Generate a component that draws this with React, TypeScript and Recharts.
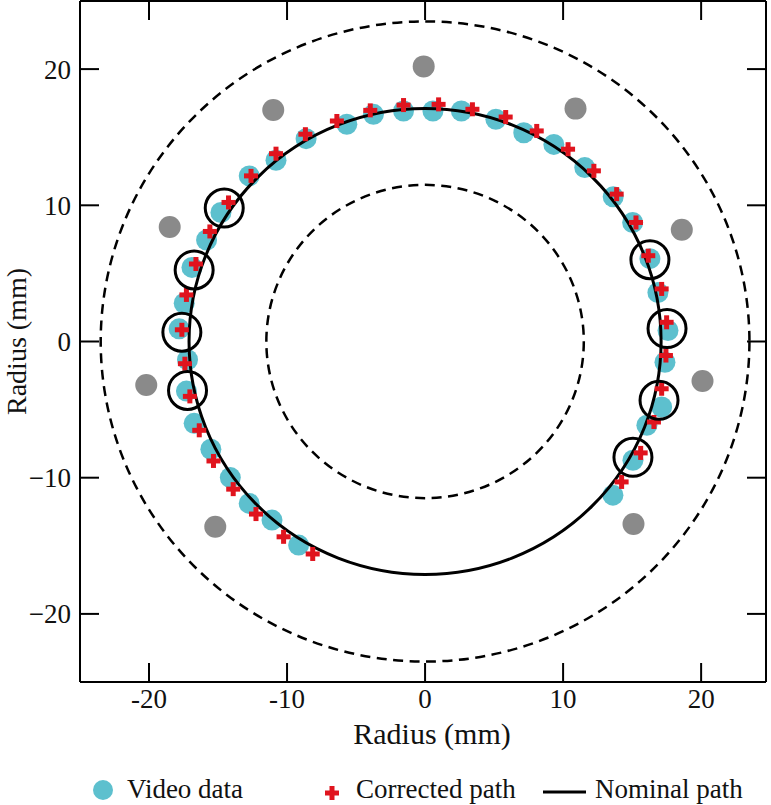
import React from 'react'
import { ScatterChart, Scatter, XAxis, YAxis } from 'recharts'

// video tracked positions (mm)
const videoX = [
  -9.16, -11.09, -12.74, -14.11, -15.52, -16.73, -17.29, -17.21, -17.82, -17.45,
  -16.89, -15.83, -14.79, -12.74, -10.8, -8.62, -5.67, -3.74, -1.56, 0.57,
  2.63, 5.13, 7.15, 9.33, 11.57, 13.63, 15.04, 16.29, 16.87, 17.6,
  17.38, 17.14, 16.07, 15.06, 13.61,
]
const videoY = [
  -14.95, -13.11, -11.89, -9.99, -7.91, -6.01, -3.64, -1.34, 0.93, 2.81,
  5.44, 7.45, 9.47, 12.16, 13.31, 14.89, 15.95, 16.68, 16.92, 16.92,
  16.92, 16.32, 15.33, 14.47, 12.77, 10.62, 8.74, 6.08, 3.59, 0.81,
  -1.52, -4.81, -6.15, -8.72, -11.28,
]

// corrected path (mm)
const correctedX = [
  -8.14, -10.25, -12.25, -13.9, -15.33, -16.36, -17.04, -17.4, -17.62, -17.29,
  -16.6, -15.59, -14.24, -12.61, -10.8, -8.67, -6.39, -3.97, -1.56, 0.98,
  3.43, 5.84, 8.09, 10.36, 12.23, 13.88, 15.28, 16.17, 17.14, 17.5,
  17.45, 17.14, 16.58, 15.62, 14.24,
]
const correctedY = [
  -15.6, -14.34, -12.67, -10.84, -8.77, -6.52, -4.03, -1.63, 0.86, 3.42,
  5.69, 8.08, 10.21, 12.16, 13.79, 15.22, 16.19, 16.97, 17.36, 17.41,
  17.05, 16.48, 15.46, 14.12, 12.53, 10.82, 8.74, 6.3, 3.86, 1.41,
  -1.03, -3.47, -5.91, -8.18, -10.31,
]

// reference markers (grey)
const markerX = [-0.1, -11.0, 10.9, -18.5, 18.6, -20.2, 20.1, -15.2, 15.1]
const markerY = [20.2, 17.0, 17.1, 8.4, 8.2, -3.2, -2.9, -13.6, -13.4]

// highlighted samples (open black circles)
const highlightX = [-14.55, -16.73, -17.62, -17.21, 16.29, 17.53, 16.95, 15.06]
const highlightY = [9.8, 5.25, 0.68, -3.59, 6.01, 0.95, -4.32, -8.5]

const nominalRadius = [17.1]
const boundaryRadius = [23.5, 11.5]

const xTicks = [-20, -10, 0, 10, 20]
const yTicks = [-20, -10, 0, 10, 20]

const FONT = "'Liberation Serif', 'DejaVu Serif', serif"
const CYAN = '#5dc0ce'
const RED = '#e0141e'
const GREY = '#8a8a8a'

const W = 771
const H = 752
const MARGIN = { top: 0, right: 4, bottom: 0, left: 0 }
const Y_AXIS_W = 80
const X_AXIS_H = 70
const TICK = 19
const X_DOMAIN: [number, number] = [-25, 24.7]
const Y_DOMAIN: [number, number] = [-25, 25]
// top axis is 1px high, right axis 1px wide
const PLOT_W = W - MARGIN.left - MARGIN.right - Y_AXIS_W - 1
const PLOT_H = H - MARGIN.top - MARGIN.bottom - X_AXIS_H - 1
const SX = PLOT_W / (X_DOMAIN[1] - X_DOMAIN[0])
const SY = PLOT_H / (Y_DOMAIN[1] - Y_DOMAIN[0])

const toPoints = (xs: number[], ys: number[]) => xs.map((x, i) => ({ x, y: ys[i] }))
const rings = (rs: number[]) => rs.map((r) => ({ x: 0, y: 0, r }))

// frame tick anchors, placed on the four domain edges
const frameTicks = [
  ...xTicks.map((t) => ({ x: t, y: Y_DOMAIN[1], dx: 0, dy: 1 })),
  ...xTicks.map((t) => ({ x: t, y: Y_DOMAIN[0], dx: 0, dy: -1 })),
  ...yTicks.map((t) => ({ x: X_DOMAIN[0], y: t, dx: 1, dy: 0 })),
  ...yTicks.map((t) => ({ x: X_DOMAIN[1], y: t, dx: -1, dy: 0 })),
]

const DashedRing = (p: any) => (
  <ellipse cx={p.cx} cy={p.cy} rx={p.payload.r * SX} ry={p.payload.r * SY}
    fill="none" stroke="#000" strokeWidth={2.5} strokeDasharray="10 6.5" />
)
const SolidRing = (p: any) => (
  <ellipse cx={p.cx} cy={p.cy} rx={p.payload.r * SX} ry={p.payload.r * SY}
    fill="none" stroke="#000" strokeWidth={3} />
)
const Dot = (color: string, r: number) => (p: any) => (
  <circle cx={p.cx} cy={p.cy} r={r} fill={color} />
)
const Cross = (p: any) => (
  <g fill={RED}>
    <rect x={p.cx - 7} y={p.cy - 2.5} width={14} height={5} />
    <rect x={p.cx - 2.5} y={p.cy - 7} width={5} height={14} />
  </g>
)
const OpenCircle = (p: any) => (
  <circle cx={p.cx} cy={p.cy} r={19} fill="none" stroke="#000" strokeWidth={3} />
)
const FrameTick = (p: any) => (
  <line x1={p.cx} y1={p.cy} x2={p.cx + p.payload.dx * TICK} y2={p.cy + p.payload.dy * TICK}
    stroke="#000" strokeWidth={2} />
)

const axisLine = { stroke: '#000', strokeWidth: 2 }
const tickStyle = { fill: '#111', fontSize: 27, fontFamily: FONT }

export default function App() {
  return (
    <div style={{ position: 'relative', width: W, height: 805, background: '#fff' }}>
      <style>{'body{margin:0}'}</style>
      <ScatterChart width={W} height={H} margin={MARGIN}>
        <XAxis type="number" dataKey="x" domain={X_DOMAIN} ticks={xTicks} interval={0}
          allowDataOverflow height={X_AXIS_H} axisLine={axisLine} tickLine={false}
          tickSize={-TICK} tickMargin={26} tick={tickStyle}
          tickFormatter={(v: number) => String(v)}
          label={{
            content: () => (
              <text x={432} y={744} textAnchor="middle" fontSize={30} fontFamily={FONT} fill="#111">
                Radius (mm)
              </text>
            ),
          }} />
        <XAxis xAxisId="t" orientation="top" type="number" dataKey="x" domain={X_DOMAIN}
          height={1} axisLine={axisLine} tickLine={false} tick={false} />
        <YAxis type="number" dataKey="y" domain={Y_DOMAIN} ticks={yTicks} interval={0}
          allowDataOverflow width={Y_AXIS_W} axisLine={axisLine} tickLine={false}
          tickSize={-TICK} tickMargin={28} tick={tickStyle}
          tickFormatter={(v: number) => (v < 0 ? '\u2212' + Math.abs(v) : String(v))}
          label={{
            content: () => (
              <text x={26} y={341.5} transform="rotate(-90 26 341.5)" textAnchor="middle"
                fontSize={28} fontFamily={FONT} fill="#111">
                Radius (mm)
              </text>
            ),
          }} />
        <YAxis yAxisId="r" orientation="right" type="number" dataKey="y" domain={Y_DOMAIN}
          width={1} axisLine={axisLine} tickLine={false} tick={false} />

        <Scatter name="frame ticks" data={frameTicks} shape={FrameTick} isAnimationActive={false} />
        <Scatter name="boundary" xAxisId="t" yAxisId="r" data={rings(boundaryRadius)} shape={DashedRing} isAnimationActive={false} />
        <Scatter name="markers" data={toPoints(markerX, markerY)} shape={Dot(GREY, 11)} isAnimationActive={false} />
        <Scatter name="Video data" data={toPoints(videoX, videoY)} shape={Dot(CYAN, 10.5)} isAnimationActive={false} />
        <Scatter name="Nominal path" data={rings(nominalRadius)} shape={SolidRing} isAnimationActive={false} />
        <Scatter name="Corrected path" data={toPoints(correctedX, correctedY)} shape={Cross} isAnimationActive={false} />
        <Scatter name="highlight" data={toPoints(highlightX, highlightY)} shape={OpenCircle} isAnimationActive={false} />
      </ScatterChart>

      <svg width={W} height={805 - H} style={{ position: 'absolute', left: 0, top: H }}
        fontFamily={FONT} fontSize={27} fill="#111">
        <circle cx={103} cy={790 - H} r={10} fill={CYAN} />
        <text x={127} y={798 - H}>Video data</text>
        <rect x={325} y={790.5 - H} width={14} height={5} fill={RED} />
        <rect x={329.5} y={786 - H} width={5} height={14} fill={RED} />
        <text x={356} y={798 - H}>Corrected path</text>
        <line x1={543} x2={586} y1={792 - H} y2={792 - H} stroke="#000" strokeWidth={3} />
        <text x={595} y={798 - H}>Nominal path</text>
      </svg>
    </div>
  )
}
